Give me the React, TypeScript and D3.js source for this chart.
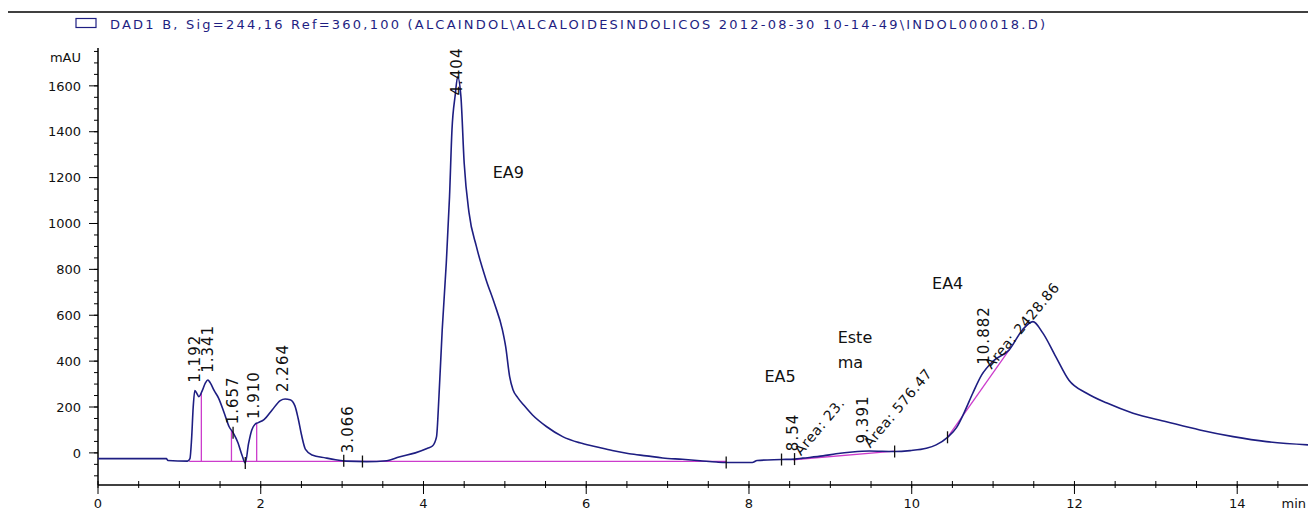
import React from "react";
import * as d3 from "d3";

const W = 1308;
const H = 513;

// chromatogram trace (min, mAU)
const traceTime = [
  0.0, 0.84, 0.86, 1.1, 1.13, 1.15, 1.17, 1.19, 1.21, 1.24, 1.28, 1.32, 1.35, 1.38, 1.43, 1.48, 1.55, 1.61,
  1.66, 1.72, 1.77, 1.81, 1.85, 1.89, 1.93, 1.97, 2.04, 2.14, 2.24, 2.3, 2.36, 2.42, 2.46, 2.5, 2.55, 2.63,
  2.8, 2.92, 3.05, 3.3, 3.55, 3.7, 3.9, 4.05, 4.11, 4.16, 4.19, 4.23, 4.28, 4.32, 4.35, 4.39, 4.42, 4.46,
  4.5, 4.56, 4.65, 4.77, 4.87, 4.97, 5.01, 5.06, 5.1, 5.16, 5.24, 5.34, 5.51, 5.71, 5.92, 6.12, 6.32, 6.53,
  6.74, 6.94, 7.18, 7.4, 7.6, 7.72, 8.04, 8.1, 8.4, 8.56, 8.66, 8.91, 9.07, 9.27, 9.48, 9.79, 9.98, 10.18,
  10.3, 10.44, 10.55, 10.65, 10.75, 10.86, 11.0, 11.2, 11.36, 11.49, 11.61, 11.77, 11.93, 12.15, 12.4,
  12.72, 13.13, 13.54, 13.95, 14.36, 14.87,
];
const traceMAU = [
  -25, -25, -33, -36, -25, 60, 200, 272, 262, 245, 270, 305, 318, 305, 270, 240, 175, 115,
  88, 44, -10, -44, 40, 100, 125, 132, 145, 187, 228, 235, 232, 205, 150, 80, 15, -9,
  -22, -30, -36, -38, -34, -18, 0, 20, 30, 70, 245, 536, 827, 1117, 1408, 1560, 1640, 1553,
  1264, 1046, 900, 754, 653, 536, 463, 330, 275, 240, 205, 165, 115, 71, 44, 27, 10, -4,
  -13, -22, -28, -34, -40, -42, -42, -33, -29, -27, -23, -13, -4, 4, 8, 6, 10, 20,
  35, 68, 110, 180, 260, 340, 400, 450, 536, 572, 523, 420, 318, 260, 217,
  173, 136, 100, 71, 49, 35,
];

const xTicks = [0, 2, 4, 6, 8, 10, 12, 14];
const yTicks = [0, 200, 400, 600, 800, 1000, 1200, 1400, 1600];

// retention time labels
const rtLabels = ["1.192", "1.341", "1.657", "1.910", "2.264", "3.066", "4.404", "8.54", "9.391", "10.882"];
const rtTimes = [1.192, 1.341, 1.657, 1.91, 2.264, 3.066, 4.404, 8.541, 9.391, 10.882];

const areaLabels = ["Area: 23.", "Area: 576.47", "Area: 2428.86"];
const areaTimes = [8.541, 9.391, 10.882];

// integration baselines
const baseStart = [1.12, 8.54, 10.44];
const baseStartMAU = [-37, -30, 68];
const baseEnd = [7.72, 9.79, 11.2];
const baseEndMAU = [-37, 8, 450];
const dropTimes = [1.27, 1.64, 1.95];
const markerTimes = [1.66, 1.81, 3.02, 3.25, 7.72, 8.4, 8.56, 9.79, 10.44];

// free text annotations
const noteText = ["EA9", "EA5", "Este", "ma", "EA4"];
const noteTime = [4.85, 8.19, 9.09, 9.09, 10.25];
const noteMAU = [1200, 310, 480, 370, 715];

const legendText =
  "DAD1 B, Sig=244,16 Ref=360,100 (ALCAINDOL\\ALCALOIDESINDOLICOS 2012-08-30 10-14-49\\INDOL000018.D)";

const TRACE = "#1e1e82";
const MAGENTA = "#cc3ccc";
const FONT = "'DejaVu Sans', Verdana, sans-serif";

const App = () => {
  const x = d3.scaleLinear().domain([0, 14.87]).range([98, W]);
  const y = d3.scaleLinear().domain([-140, 1765]).range([485, 48]);
  const pts: [number, number][] = traceTime.map((t, i) => [t, traceMAU[i]]);
  const line = d3
    .line<[number, number]>()
    .x(d => x(d[0]))
    .y(d => y(d[1]))
    .curve(d3.curveMonotoneX);

  const bis = d3.bisector((d: number) => d).left;
  const valueAt = (t: number) => {
    const i = Math.max(1, Math.min(traceTime.length - 1, bis(traceTime, t)));
    const t0 = traceTime[i - 1], t1 = traceTime[i];
    const k = (t - t0) / (t1 - t0);
    return traceMAU[i - 1] + k * (traceMAU[i] - traceMAU[i - 1]);
  };

  const top = y.range()[1];
  const bottom = y.range()[0];
  const xMinor = d3.range(0, 14.87, 0.5);
  const yMinor = d3.range(-100, 1751, 50);

  return (
    <svg
      width={W}
      height={H}
      style={{ position: "absolute", left: 0, top: 0, background: "#fff" }}
      fontFamily={FONT}
    >
      {/* header rule + legend */}
      <line x1={8} x2={W} y1={12} y2={12} stroke="#000" strokeWidth={1.5} />
      <rect x={76} y={18.5} width={20} height={9} fill="none" stroke={TRACE} strokeWidth={1.2} />
      <text x={110} y={28.5} fontSize={13} fill={TRACE} textLength={935} lengthAdjust="spacing">
        {legendText}
      </text>

      {/* y axis */}
      <line x1={98} x2={98} y1={top} y2={bottom} stroke="#000" strokeWidth={1.5} />
      {yMinor.map(v => (
        <line key={"ym" + v} x1={94} x2={98} y1={y(v)} y2={y(v)} stroke="#000" />
      ))}
      {yTicks.map(v => (
        <g key={"y" + v}>
          <line x1={89} x2={98} y1={y(v)} y2={y(v)} stroke="#000" />
          <text x={81} y={y(v)} dy="0.36em" fontSize={13} textAnchor="end" fill="#111">
            {v}
          </text>
        </g>
      ))}
      <text x={81} y={62} fontSize={13} textAnchor="end" fill="#111">
        mAU
      </text>

      {/* x axis */}
      <line x1={98} x2={W} y1={bottom} y2={bottom} stroke="#000" strokeWidth={1.5} />
      {xMinor.map(t => (
        <line key={"xm" + t} x1={x(t)} x2={x(t)} y1={bottom - 4} y2={bottom + 3} stroke="#000" />
      ))}
      {xTicks.map(t => (
        <g key={"x" + t}>
          <line x1={x(t)} x2={x(t)} y1={bottom} y2={bottom + 9} stroke="#000" />
          <text x={x(t)} y={508} fontSize={13} textAnchor="middle" fill="#111">
            {t}
          </text>
        </g>
      ))}
      <text x={W - 2} y={508} fontSize={13} textAnchor="end" fill="#111">
        min
      </text>

      {/* integration baselines */}
      {baseStart.map((t, i) => (
        <line
          key={"b" + i}
          x1={x(t)}
          y1={y(baseStartMAU[i])}
          x2={x(baseEnd[i])}
          y2={y(baseEndMAU[i])}
          stroke={MAGENTA}
          strokeWidth={1.3}
        />
      ))}
      {dropTimes.map(t => (
        <line
          key={"d" + t}
          x1={x(t)}
          x2={x(t)}
          y1={y(baseStartMAU[0])}
          y2={y(valueAt(t))}
          stroke={MAGENTA}
          strokeWidth={1.3}
        />
      ))}

      {/* trace */}
      <path d={line(pts) || ""} fill="none" stroke={TRACE} strokeWidth={1.6} />

      {/* event markers */}
      {markerTimes.map(t => (
        <line
          key={"m" + t}
          x1={x(t)}
          x2={x(t)}
          y1={y(valueAt(t)) - 6}
          y2={y(valueAt(t)) + 6}
          stroke="#111"
          strokeWidth={1.3}
        />
      ))}

      {/* retention time labels */}
      {rtLabels.map((lab, i) => {
        const t = rtTimes[i];
        const len = lab.length * 9.5;
        const yb = Math.max(y(valueAt(t)) - 8, top + len);
        return (
          <text
            key={"rt" + i}
            transform={`translate(${x(t)},${yb}) rotate(-90)`}
            dy="0.36em"
            fontSize={15}
            letterSpacing={1}
            fill="#111"
          >
            {lab}
          </text>
        );
      })}
      {areaLabels.map((lab, i) => {
        const t = areaTimes[i];
        return (
          <text
            key={"ar" + i}
            transform={`translate(${x(t) + 8},${y(valueAt(t)) - 3}) rotate(-50)`}
            fontSize={14}
            letterSpacing={0.6}
            fill="#111"
          >
            {lab}
          </text>
        );
      })}

      {/* annotations */}
      {noteText.map((s, i) => (
        <text key={"n" + i} x={x(noteTime[i])} y={y(noteMAU[i])} fontSize={16} fill="#111">
          {s}
        </text>
      ))}
    </svg>
  );
};

export default App;
